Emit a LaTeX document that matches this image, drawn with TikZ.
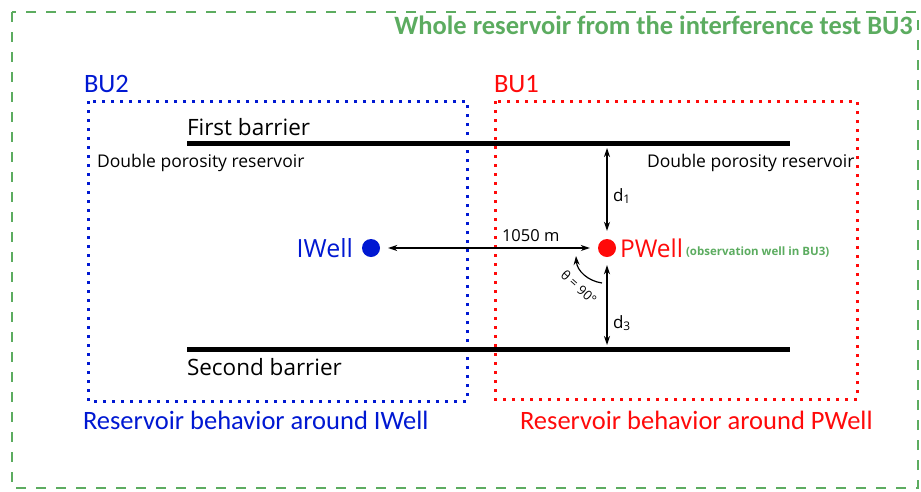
\documentclass[tikz,border=0pt]{standalone}
\usepackage{fontspec}
\setmainfont{Open Sans}
\newfontfamily\labelfont{Carlito}
\usetikzlibrary{arrows.meta}
\definecolor{bugreen}{RGB}{92,172,96}
\definecolor{bublue}{RGB}{0,24,210}
\definecolor{bured}{RGB}{255,10,10}
\newcommand{\fs}[1]{\fontsize{#1}{#1}\selectfont}
\tikzset{
  zone/.style={line width=3pt, dash pattern=on 3pt off 6pt},
  barrier/.style={line width=5pt},
  dim/.style={line width=1.2pt, {Stealth[length=9pt,width=6pt]}-{Stealth[length=9pt,width=6pt]}},
  txt/.style={inner sep=0pt, outer sep=0pt},
  well/.style={circle, inner sep=0pt, minimum size=18pt},
}
\begin{document}
\begin{tikzpicture}[x=1pt,y=-1pt]
\useasboundingbox (0,0) rectangle (921,491);
% whole reservoir (BU3)
\draw[bugreen, line width=1.8pt, dash pattern=on 10pt off 10pt] (12,12) rectangle (918,488);
\node[txt, anchor=base east, text=bugreen, font=\labelfont\bfseries\fs{26.5}] (bu3) at (913,34) {Whole reservoir from the interference test BU3};
% BU2 and BU1 zones
\draw[zone, bublue] (88,101) rectangle (467,401);
\draw[zone, bured] (495,101) rectangle (857,399);
\node[txt, anchor=base west, text=bublue, font=\labelfont\fs{26.5}] (bu2) at (84,92) {BU2};
\node[txt, anchor=base west, text=bured, font=\labelfont\fs{26.5}] (bu1) at (494,92) {BU1};
\node[txt, anchor=base west, text=bublue, font=\labelfont\fs{26.5}] (lbi) at (83,429) {Reservoir behavior around IWell};
\node[txt, anchor=base west, text=bured, font=\labelfont\fs{26.5}] (lbp) at (520,429) {Reservoir behavior around PWell};
% barriers
\coordinate (b1l) at (187,143); \coordinate (b1r) at (790,143);
\coordinate (b2l) at (187,349); \coordinate (b2r) at (790,349);
\draw[barrier] (b1l) -- (b1r);
\draw[barrier] (b2l) -- (b2r);
\node[txt, anchor=base west, font=\fs{22.5}] (fb) at (187,135) {First barrier};
\node[txt, anchor=base west, font=\fs{22.5}] (sb) at (187,375) {Second barrier};
\node[txt, anchor=base west, font=\fs{17.5}] (dpl) at (97,167) {Double porosity reservoir};
\node[txt, anchor=base west, font=\fs{17.5}] (dpr) at (647,167) {Double porosity reservoir};
% wells
\node[well, fill=bublue] (iw) at (371,248) {};
\node[well, fill=bured] (pw) at (607,248) {};
\node[txt, anchor=base east, text=bublue, font=\fs{25}] (iwl) at (353,257) {IWell};
\node[txt, anchor=base west, text=bured, font=\fs{24.5}] (pwl) at (620,257) {PWell};
\node[txt, anchor=base west, text=bugreen, font=\bfseries\fs{11.5}] (obs) at (686,255) {(observation well in BU3)};
% distances
\draw[dim] ([xshift=8pt]iw.east) -- ([xshift=-8pt]pw.west);
\node[txt, anchor=base west, font=\fs{16.5}] (dist) at (502,241) {1050 m};
\draw[dim] ([yshift=-5pt]b1r -| pw) -- ([yshift=8pt]pw.north);
\draw[dim] ([yshift=-8pt]pw.south) -- ([yshift=4pt]b2r -| pw);
\node[txt, anchor=base west, font=\fs{17}] (d1) at (613,201) {d\textsubscript{1}};
\node[txt, anchor=base west, font=\fs{17}] (d3) at (613,328) {d\textsubscript{3}};
% angle between the two directions
\coordinate (a0) at (602,283);
\coordinate (a1) at (576,256);
\draw[line width=1.2pt, -{Stealth[length=9pt,width=6pt]}] (a0) .. controls (588,281) and (577,271) .. (a1);
\node[txt, rotate=-42, font=\fs{13}] (th) at (579,287) {θ = 90°};
\end{tikzpicture}
\end{document}
